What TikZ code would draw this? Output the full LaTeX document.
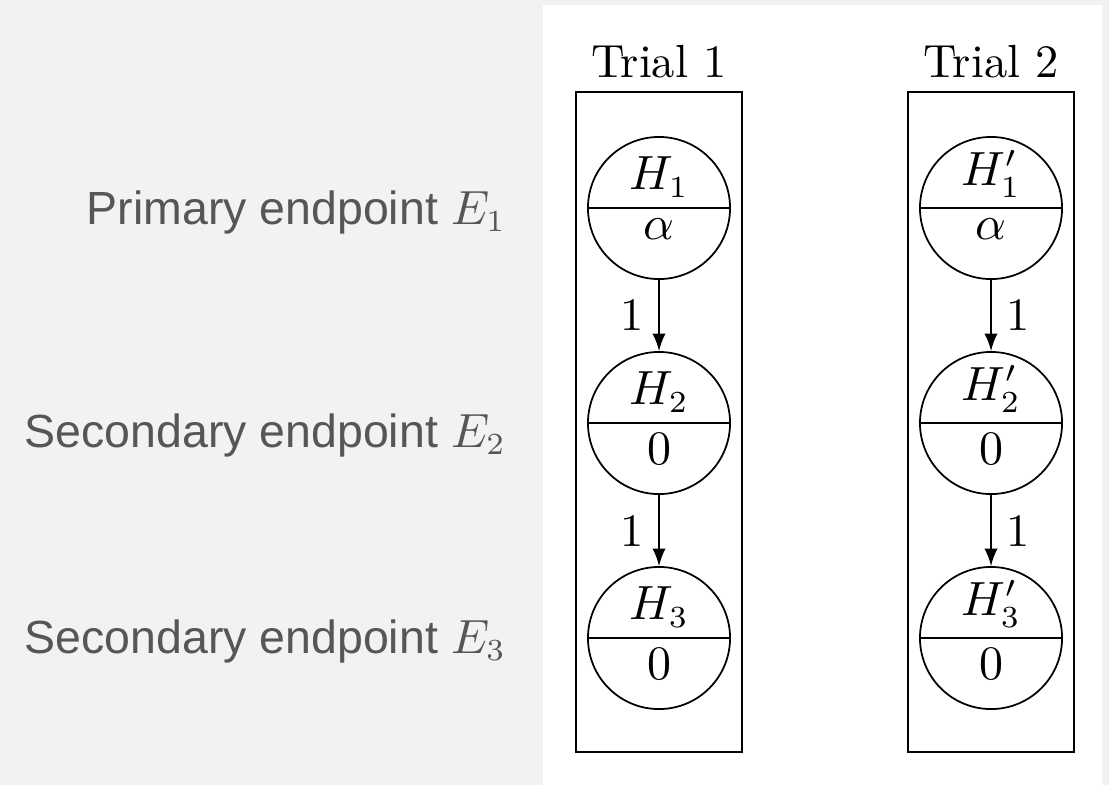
\documentclass[tikz,border=0pt]{standalone}
\usepackage{fontspec}
\setsansfont{Liberation Sans}
\usepackage{amsmath}
\usetikzlibrary{arrows}
\usetikzlibrary{positioning}
\definecolor{pagegray}{RGB}{242,242,242}
\definecolor{labelgray}{RGB}{86,86,90}

\begin{document}
\begin{tikzpicture}[x=0.228pt,y=-0.228pt,->,>=latex,auto,
    hyp node/.style={circle,draw,minimum size=32.4pt,inner sep=0pt},
    upper text/.style={anchor=south,inner sep=0pt},
    lower text/.style={anchor=north,inner sep=0pt},
    trial box/.style={draw,rectangle,minimum width=37.85pt,minimum height=150.5pt,inner sep=0pt},
    end label/.style={anchor=base east,inner sep=0pt,text=labelgray,font=\sffamily\fontsize{10.6}{13}\selectfont}]
   \useasboundingbox (0,0) rectangle (1109,785);
   \fill[-,pagegray] (0,0) rectangle (1109,785);
   \fill[-,white] (543,5) rectangle (1102,785);

   % endpoints
   \node[end label] (e1) at (507,224) {Primary endpoint $E_1$};
   \node[end label] (e2) at (507,447) {Secondary endpoint $E_2$};
   \node[end label] (e3) at (507,653) {Secondary endpoint $E_3$};

   \begin{scope}[font=\fontsize{10.6}{12.7}\selectfont]%trial 1
     \node[trial box] (box1) at (659,422) {};
     \node[anchor=base] (t1) at (659,77) {Trial 1};
     \node[hyp node] (a) at (659,208) {};
     \node[hyp node] (b) at (659,423) {};
     \node[hyp node] (c) at (659,638) {};
     \node[upper text] (at) at (659,198) {$H_1$};
     \node[lower text] (ab) at (659,218) {$\alpha$};
     \node[upper text] (bt) at (659,413) {$H_2$};
     \node[lower text] (bb) at (659,433) {$0$};
     \node[upper text] (ct) at (659,628) {$H_3$};
     \node[lower text] (cb) at (659,648) {$0$};
      \path[-] (a.west) edge (a.east);
      \path[-] (b.west) edge (b.east);
      \path[-] (c.west) edge (c.east);
      \path[->] (a) edge node[left] {1} (b);
      \path[->] (b) edge node[left] {1} (c);
   \end{scope}

   \begin{scope}[font=\fontsize{10.6}{12.7}\selectfont]%trial 2
     \node[trial box] (box2) at (991,422) {};
     \node[anchor=base] (t2) at (991,77) {Trial 2};
     \node[hyp node] (d) at (991,208) {};
     \node[hyp node] (e) at (991,423) {};
     \node[hyp node] (f) at (991,638) {};
     \node[upper text] (dt) at (991,198) {$H'_1$};
     \node[lower text] (db) at (991,218) {$\alpha$};
     \node[upper text] (et) at (991,413) {$H'_2$};
     \node[lower text] (eb) at (991,433) {$0$};
     \node[upper text] (ft) at (991,628) {$H'_3$};
     \node[lower text] (fb) at (991,648) {$0$};
      \path[-] (d.west) edge (d.east);
      \path[-] (e.west) edge (e.east);
      \path[-] (f.west) edge (f.east);
      \path[->] (d) edge node[right] {1} (e);
      \path[->] (e) edge node[right] {1} (f);
   \end{scope}
\end{tikzpicture}
\end{document}
